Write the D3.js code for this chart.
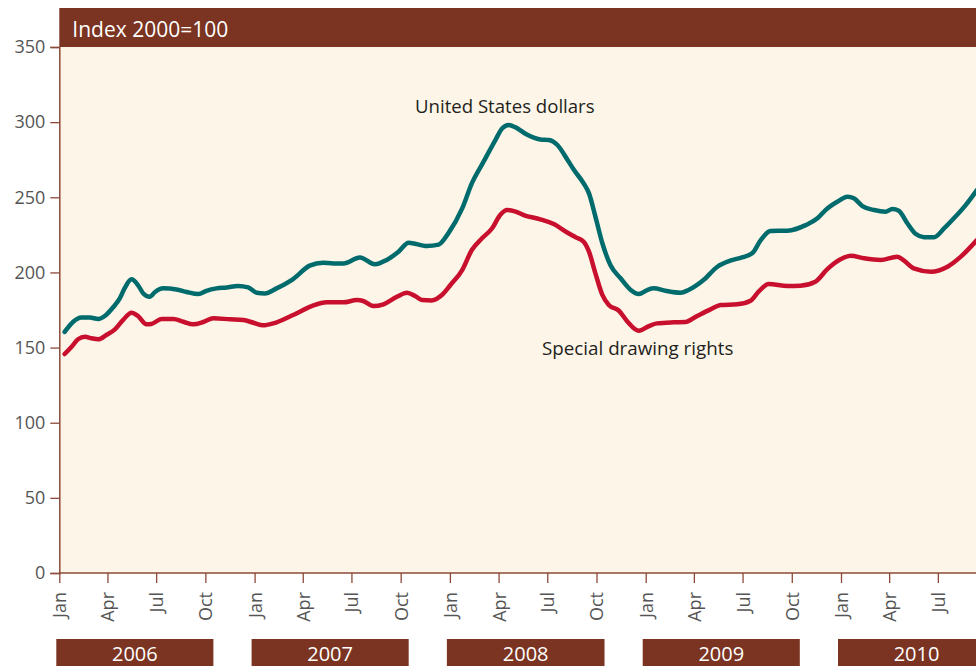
<!DOCTYPE html>
<html>
<head>
<meta charset="utf-8">
<script src="https://cdn.jsdelivr.net/npm/d3@7"></script>
<style>
  body { margin: 0; background: #fff; }
  svg { display: block; font-family: "Open Sans", sans-serif; }
</style>
</head>
<body>
<svg id="chart"></svg>
<script>
// weekly-ish readings of the two index lines (Index 2000=100)
const usdDates = ["2006-01-11","2006-01-27","2006-02-11","2006-02-27","2006-03-15","2006-03-27","2006-04-12","2006-04-24","2006-05-03","2006-05-16","2006-05-28","2006-06-07","2006-06-19","2006-06-29","2006-07-14","2006-08-08","2006-08-27","2006-09-18","2006-10-03","2006-10-22","2006-11-10","2006-12-01","2006-12-20",
  "2007-01-05","2007-01-20","2007-02-11","2007-03-14","2007-04-14","2007-05-09","2007-05-28","2007-06-16","2007-07-17","2007-08-14","2007-09-05","2007-09-27","2007-10-16","2007-11-19","2007-12-11","2007-12-29",
  "2008-01-24","2008-02-11","2008-03-04","2008-03-26","2008-04-08","2008-04-20","2008-05-03","2008-05-22","2008-06-18","2008-07-04","2008-07-20","2008-08-08","2008-08-20","2008-09-07","2008-09-17","2008-09-29","2008-10-12","2008-10-27","2008-11-15","2008-12-04","2008-12-19",
  "2009-01-04","2009-01-16","2009-02-07","2009-03-07","2009-03-22","2009-04-19","2009-05-15","2009-06-08","2009-06-30","2009-07-19","2009-08-04","2009-08-22","2009-09-23","2009-10-27","2009-11-18","2009-12-03","2009-12-25",
  "2010-01-13","2010-01-25","2010-02-10","2010-03-04","2010-03-25","2010-04-07","2010-04-19","2010-05-05","2010-05-21","2010-06-05","2010-06-24","2010-07-13","2010-07-31","2010-08-22","2010-09-12"];
const usdValues = [160.4,167.2,170,170,169,171,177,182.7,189.4,195.4,191.6,186,183.8,187,189.4,188.7,187,185.6,187.8,189.4,190,191,190,
  186.5,186,189.4,195.6,204.5,206.5,206,206,210,205.4,208.3,213.8,219.8,217.6,218.5,226,
  242.6,259.3,273.7,288.1,295.9,298.1,296.5,292.1,288.5,288.1,284.8,274.8,268.1,259.3,252.6,237.1,219.4,204.9,196.1,188.3,185.6,
  188.3,189.4,187.8,186.5,188.3,194.9,203.8,207.8,210,212.7,221.5,227.5,227.8,231.5,236,241.5,247,
  250.4,249.3,244.2,241.5,240.4,242.2,241.1,232.7,225.5,223.4,223.4,229.4,236,244.8,254.8];

const sdrDates = ["2006-01-11","2006-01-24","2006-02-05","2006-02-18","2006-03-02","2006-03-15","2006-03-30","2006-04-15","2006-04-30","2006-05-16","2006-05-28","2006-06-13","2006-06-22","2006-07-11","2006-08-02","2006-08-21","2006-09-08","2006-09-27","2006-10-16","2006-11-16","2006-12-11","2006-12-30",
  "2007-01-17","2007-02-05","2007-03-14","2007-04-18","2007-05-16","2007-06-16","2007-07-11","2007-07-23","2007-08-11","2007-08-30","2007-09-24","2007-10-13","2007-10-28","2007-11-10","2007-11-28","2007-12-17",
  "2008-01-02","2008-01-24","2008-02-11","2008-03-01","2008-03-20","2008-04-04","2008-04-17","2008-05-03","2008-05-18","2008-06-18","2008-07-13","2008-08-08","2008-08-23","2008-09-07","2008-09-17","2008-09-29","2008-10-12","2008-10-24","2008-11-12","2008-11-28","2008-12-19",
  "2009-01-07","2009-01-22","2009-02-22","2009-03-16","2009-04-07","2009-05-02","2009-05-21","2009-06-21","2009-07-16","2009-07-31","2009-08-19","2009-09-23","2009-10-17","2009-11-14","2009-12-06","2009-12-31",
  "2010-01-19","2010-02-13","2010-03-16","2010-04-16","2010-04-29","2010-05-17","2010-06-18","2010-07-19","2010-08-13","2010-09-12"];
const sdrValues = [145.7,150.6,155.5,157.2,156.2,155.5,158.4,162.1,168.3,173.2,171,165.5,165.7,169,169,167.2,165.5,167,169.5,168.8,168.3,166.5,
  164.8,166.1,171.7,177.6,180.1,180.1,181.6,181,177.6,178.8,183.8,186.5,184.3,181.6,181.4,185,
  191.6,201.6,214.9,222.7,229.4,238.2,241.5,240.4,238.2,235.3,232.2,226.4,223.4,220.4,213.8,199.4,185,178.3,174.5,167.2,161.2,
  164.3,166.1,166.8,167,171,175.4,178.3,178.8,181.2,187.2,192.3,191,191.2,193.8,202,208.7,
  211.1,209.4,208.3,210.5,207.8,202.7,200.5,203.8,210.5,221.5];

const years = ["2006","2007","2008","2009","2010"];
const yTicks = [0,50,100,150,200,250,300,350];
const unitLabel = "Index 2000=100";
const usdLabel = "United States dollars";
const sdrLabel = "Special drawing rights";

const w = 976, h = 666;
const brown = "#7a3421";
const axisBrown = "#8c4a38";

const parse = d3.timeParse("%Y-%m-%d");
const usd = usdDates.map((d, i) => ({ date: parse(d), value: usdValues[i] }));
const sdr = sdrDates.map((d, i) => ({ date: parse(d), value: sdrValues[i] }));

const svg = d3.select("#chart").attr("width", w).attr("height", h);

const x = d3.scaleTime()
  .domain([new Date(2006, 0, 1), new Date(2010, 0, 1)])
  .range([59.3, 841]);
const y = d3.scaleLinear().domain([0, 350]).range([573, 47]);

const left = x.range()[0];
const right = x(new Date(2010, 11, 1));

// plot background
svg.append("rect")
  .attr("x", left).attr("y", y(350))
  .attr("width", right - left).attr("height", y(0) - y(350))
  .attr("fill", "#fcf5e8");

// header band
svg.append("rect")
  .attr("x", left).attr("y", 8)
  .attr("width", right - left).attr("height", y(350) - 8)
  .attr("fill", brown);
svg.append("text")
  .attr("x", left + 13).attr("y", 37)
  .attr("fill", "#fff")
  .style("font-size", "21px")
  .text(unitLabel);

// y axis
const yAxis = d3.axisLeft(y).tickValues(yTicks).tickSize(9).tickPadding(5);
const gy = svg.append("g")
  .attr("transform", `translate(${left},0)`)
  .call(yAxis);
gy.select(".domain").attr("stroke", axisBrown).attr("stroke-width", 1.5);
gy.selectAll(".tick line").attr("stroke", axisBrown).attr("stroke-width", 1.3);
gy.selectAll(".tick text")
  .attr("fill", "#555")
  .style("font-size", "18px")
  .style("font-family", "'Open Sans', sans-serif");

// x axis, quarterly ticks (Jan 2006 .. Jul 2010 fit in the frame)
const quarters = d3.timeMonth.every(3).range(new Date(2006, 0, 1), new Date(2010, 7, 1));
const xAxis = d3.axisBottom(x).tickValues(quarters).tickSize(10).tickFormat(d3.timeFormat("%b"));
const gx = svg.append("g")
  .attr("transform", `translate(0,${y(0)})`)
  .call(xAxis);
gx.select(".domain").remove();
gx.append("line")
  .attr("x1", left).attr("x2", right)
  .attr("stroke", axisBrown).attr("stroke-width", 1.5);
gx.selectAll(".tick line").attr("stroke", axisBrown).attr("stroke-width", 1.3);
gx.selectAll(".tick text")
  .attr("fill", "#555")
  .style("font-size", "18px")
  .style("font-family", "'Open Sans', sans-serif")
  .attr("text-anchor", "end")
  .attr("transform", "rotate(-90)")
  .attr("x", -19).attr("y", 0).attr("dy", "0.36em");

// year bands
const yearG = svg.append("g");
years.forEach(yr => {
  const x0 = x(new Date(+yr, 0, 1)) - 3;
  const x1 = x(new Date(+yr, 9, 16));
  yearG.append("rect")
    .attr("x", x0).attr("y", 639)
    .attr("width", x1 - x0).attr("height", 40)
    .attr("fill", brown);
  yearG.append("text")
    .attr("x", (x0 + x1) / 2).attr("y", 661)
    .attr("text-anchor", "middle")
    .attr("fill", "#fff")
    .style("font-size", "20px")
    .text(yr);
});

// lines
const line = d3.line()
  .x(d => x(d.date))
  .y(d => y(d.value))
  .curve(d3.curveMonotoneX);

svg.append("path")
  .datum(sdr)
  .attr("d", line)
  .attr("fill", "none")
  .attr("stroke", "#c8102e")
  .attr("stroke-width", 4.5)
  .attr("stroke-linejoin", "round")
  .attr("stroke-linecap", "round");

svg.append("path")
  .datum(usd)
  .attr("d", line)
  .attr("fill", "none")
  .attr("stroke", "#006b6c")
  .attr("stroke-width", 4.5)
  .attr("stroke-linejoin", "round")
  .attr("stroke-linecap", "round");

// series labels
svg.append("text")
  .attr("x", 415).attr("y", 113)
  .attr("fill", "#231f20")
  .style("font-size", "18.6px")
  .text(usdLabel);
svg.append("text")
  .attr("x", 542).attr("y", 355)
  .attr("fill", "#231f20")
  .style("font-size", "18.8px")
  .text(sdrLabel);
</script>
</body>
</html>
